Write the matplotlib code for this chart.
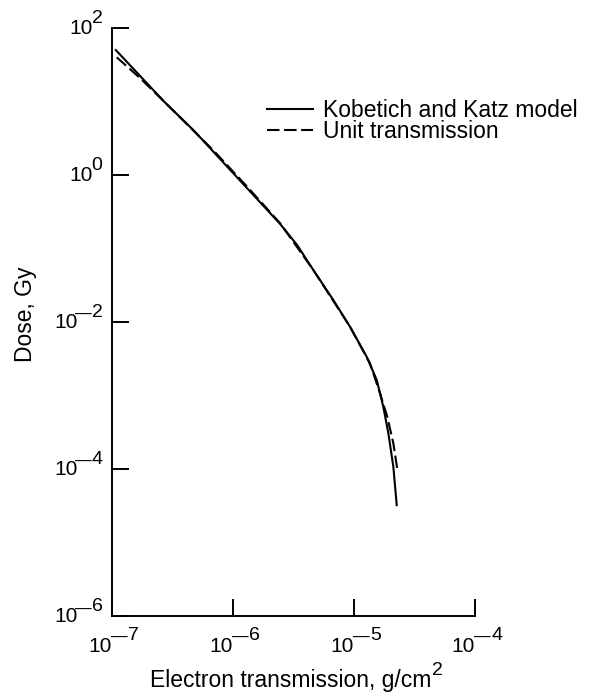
import matplotlib
matplotlib.use("Agg")
import matplotlib.pyplot as plt
import numpy as np

plt.rcParams["font.family"] = ["Liberation Sans", "DejaVu Sans"]

# log10 of thickness (g/cm^2) and dose (Gy)
kk_logx = [-6.969, -6.562, -6.328, -6.163, -5.887, -5.612, -5.470, -5.336,
           -5.171, -5.033, -4.895, -4.812, -4.758, -4.716, -4.675, -4.647]
kk_logy = [1.694, 0.981, 0.607, 0.314, -0.177, -0.666, -0.955, -1.295,
           -1.702, -2.065, -2.473, -2.789, -3.152, -3.514, -3.967, -4.488]

unit_logx = [-6.961, -6.769, -6.562, -6.163, -5.887, -5.612, -5.336,
             -5.033, -4.868, -4.785, -4.725, -4.675, -4.639]
unit_logy = [1.595, 1.314, 0.981, 0.332, -0.156, -0.656, -1.295,
             -2.065, -2.563, -2.970, -3.288, -3.649, -4.035]

xtick_exp = [-7, -6, -5, -4]
ytick_exp = [-6, -4, -2, 0, 2]

fig = plt.figure(figsize=(5.94, 6.98), dpi=100)
ax = fig.add_axes([0.1886, 0.1168, 0.6111, 0.8438])

ax.plot(10 ** np.array(kk_logx), 10 ** np.array(kk_logy), color="black",
        lw=1.5, label="Kobetich and Katz model")
ax.plot(10 ** np.array(unit_logx), 10 ** np.array(unit_logy), color="black",
        lw=1.5, dashes=(6, 2.2), label="Unit transmission")

ax.set_xscale("log")
ax.set_yscale("log")
ax.set_xlim(1e-7, 1e-4)
ax.set_ylim(1e-6, 1e2)
ax.set_xticks([10.0 ** e for e in xtick_exp])
ax.set_yticks([10.0 ** e for e in ytick_exp])
ax.set_xticklabels([])
ax.set_yticklabels([])
ax.minorticks_off()

for s in ["top", "right"]:
    ax.spines[s].set_visible(False)
for s in ["left", "bottom"]:
    ax.spines[s].set_linewidth(1.4)
ax.tick_params(direction="in", length=12, width=1.4)

BASE = 15
SUP = 14
DASH = 12


def power_label(e, axis):
    # "10" with a nearly full-size raised exponent and a long minus dash
    v = 10.0 ** e
    if axis == "x":
        tr = ax.get_xaxis_transform()
        xy = (v, 0)
        ax.annotate("10", xy=xy, xycoords=tr, xytext=(0, -35.8),
                    textcoords="offset pixels", ha="right", va="baseline",
                    fontsize=BASE)
        prev = ax.annotate("\u2014", xy=xy, xycoords=tr, xytext=(-1, -25.5),
                           textcoords="offset pixels", ha="left",
                           va="baseline", fontsize=DASH)
        ax.annotate(str(abs(e)), xy=(1, 0), xycoords=(prev, tr),
                    xytext=(0.5, -23.5), textcoords="offset pixels",
                    ha="left", va="baseline", fontsize=SUP)
    else:
        tr = ax.get_yaxis_transform()
        xy = (0, v)
        prev = ax.annotate(str(abs(e)), xy=xy, xycoords=tr,
                           xytext=(-9.5, 5), textcoords="offset pixels",
                           ha="right", va="baseline", fontsize=SUP)
        if e < 0:
            prev = ax.annotate("\u2014", xy=(0, v), xycoords=(prev, tr),
                               xytext=(0, 3), textcoords="offset pixels",
                               ha="right", va="baseline", fontsize=DASH)
            ax.annotate("10", xy=(0, v), xycoords=(prev, tr), xytext=(2.5, -6),
                        textcoords="offset pixels", ha="right", va="baseline",
                        fontsize=BASE)
        else:
            ax.annotate("10", xy=(0, v), xycoords=(prev, tr), xytext=(0.9, -6),
                        textcoords="offset pixels", ha="right", va="baseline",
                        fontsize=BASE)


for e in xtick_exp:
    power_label(e, "x")
for e in ytick_exp:
    power_label(e, "y")

# axis titles
xl = fig.text(149.5 / 594, 11.3 / 698, "Electron transmission, g/cm",
              fontsize=16.5, ha="left", va="baseline")
ax.annotate("2", xy=(1, 11.3), xycoords=(xl, "figure pixels"),
            xytext=(1, 12), textcoords="offset pixels", ha="left",
            va="baseline", fontsize=SUP)
fig.text(31.7 / 594, 1 - 314 / 698, "Dose, Gy", fontsize=16.5, rotation=90,
         rotation_mode="anchor", ha="center", va="baseline")

ax.legend(loc="upper left", bbox_to_anchor=(266.7 / 594, 1 - 99.3 / 698),
          bbox_transform=fig.transFigure, frameon=False, fontsize=16.5,
          handlelength=2.02, handletextpad=0.42, borderpad=0,
          borderaxespad=0, labelspacing=-0.08)

fig.savefig("out.png", dpi=100)
